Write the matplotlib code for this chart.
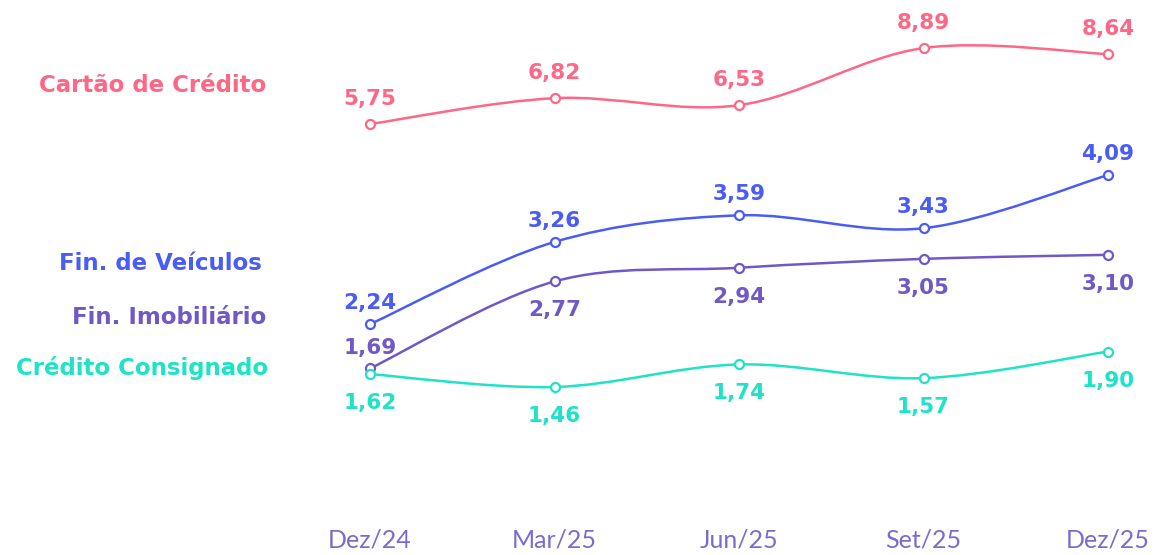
import numpy as np
import matplotlib.pyplot as plt
from matplotlib.path import Path
from matplotlib.patches import PathPatch

periods = ['Dez/24', 'Mar/25', 'Jun/25', 'Set/25', 'Dez/25']
cartao = [5.75, 6.82, 6.53, 8.89, 8.64]
veiculos = [2.24, 3.26, 3.59, 3.43, 4.09]
imobiliario = [1.69, 2.77, 2.94, 3.05, 3.10]
consignado = [1.62, 1.46, 1.74, 1.57, 1.90]

PINK = '#ff6786'
BLUE = '#4a5cf6'
PURPLE = '#7059c6'
TEAL = '#1ee3c6'
TICK = '#7a6bd0'
BOLD_FONT = 'DejaVu Sans'
TICK_FONT = 'Lato'

W, H = 1158, 555


def fx(px):
    return px / W


def fy(py):
    return 1 - py / H


def smooth_path(x, y):
    # catmull-rom curve through the points, as cubic bezier segments
    x = np.asarray(x, float)
    y = np.asarray(y, float)
    px = np.concatenate([[x[0]], x, [x[-1]]])
    py = np.concatenate([[y[0]], y, [y[-1]]])
    verts = [(x[0], y[0])]
    codes = [Path.MOVETO]
    for i in range(1, len(px) - 2):
        c1 = (px[i] + (px[i + 1] - px[i - 1]) / 6, py[i] + (py[i + 1] - py[i - 1]) / 6)
        c2 = (px[i + 1] - (px[i + 2] - px[i]) / 6, py[i + 1] - (py[i + 2] - py[i]) / 6)
        verts += [c1, c2, (px[i + 1], py[i + 1])]
        codes += [Path.CURVE4] * 3
    return Path(verts, codes)


def draw_series(ax, values, color, offsets):
    x = np.arange(len(values))
    ax.add_patch(PathPatch(smooth_path(x, values), facecolor='none',
                           edgecolor=color, lw=1.8, clip_on=False))
    ax.plot(x, values, 'o', ms=6.5, mfc='white', mec=color, mew=1.6,
            clip_on=False, zorder=3)
    for xi, v, off in zip(x, values, offsets):
        ax.annotate(f'{v:.2f}'.replace('.', ','), (xi, v), xytext=(0, off),
                    textcoords='offset pixels', ha='center', va='center',
                    color=color, fontsize=15.5, fontweight='bold', family=BOLD_FONT)


fig = plt.figure(figsize=(W / 100, H / 100), dpi=100)

x0, x1 = fx(370), fx(1108)

# lower panel: shared scale for the three smaller series
ax = fig.add_axes([x0, fy(512), x1 - x0, fy(140) - fy(512)])
ax.set_xlim(0, 4)
ax.set_ylim((504.7 - 512) / 80.6, (504.7 - 140) / 80.6)

# upper panel: separate scale for card
ax_top = fig.add_axes([x0, fy(140), x1 - x0, fy(0) - fy(140)])
ax_top.set_xlim(0, 4)
ax_top.set_ylim((263.2 - 140) / 24.2, 263.2 / 24.2)

for a in (ax, ax_top):
    a.patch.set_visible(False)
    for s in a.spines.values():
        s.set_visible(False)
    a.set_yticks([])
ax_top.set_xticks([])

ax.set_xticks(range(len(periods)))
ax.set_xticklabels(periods, fontsize=18, color=TICK, family=TICK_FONT)
ax.tick_params(axis='x', length=0, pad=12)

draw_series(ax_top, cartao, PINK, [25] * 5)
draw_series(ax, veiculos, BLUE, [21] * 5)
draw_series(ax, imobiliario, PURPLE, [20, -29, -29, -29, -29])
draw_series(ax, consignado, TEAL, [-29] * 5)

names = [('Cartão de Crédito', PINK, 86, 266),
         ('Fin. de Veículos', BLUE, 264, 262),
         ('Fin. Imobiliário', PURPLE, 317, 266),
         ('Crédito Consignado', TEAL, 368, 268)]
for txt, c, py, px in names:
    fig.text(fx(px), fy(py), txt, ha='right', va='center', color=c,
             fontsize=16.5, fontweight='bold', family=BOLD_FONT)

fig.savefig('out.png', dpi=100, facecolor='white')
